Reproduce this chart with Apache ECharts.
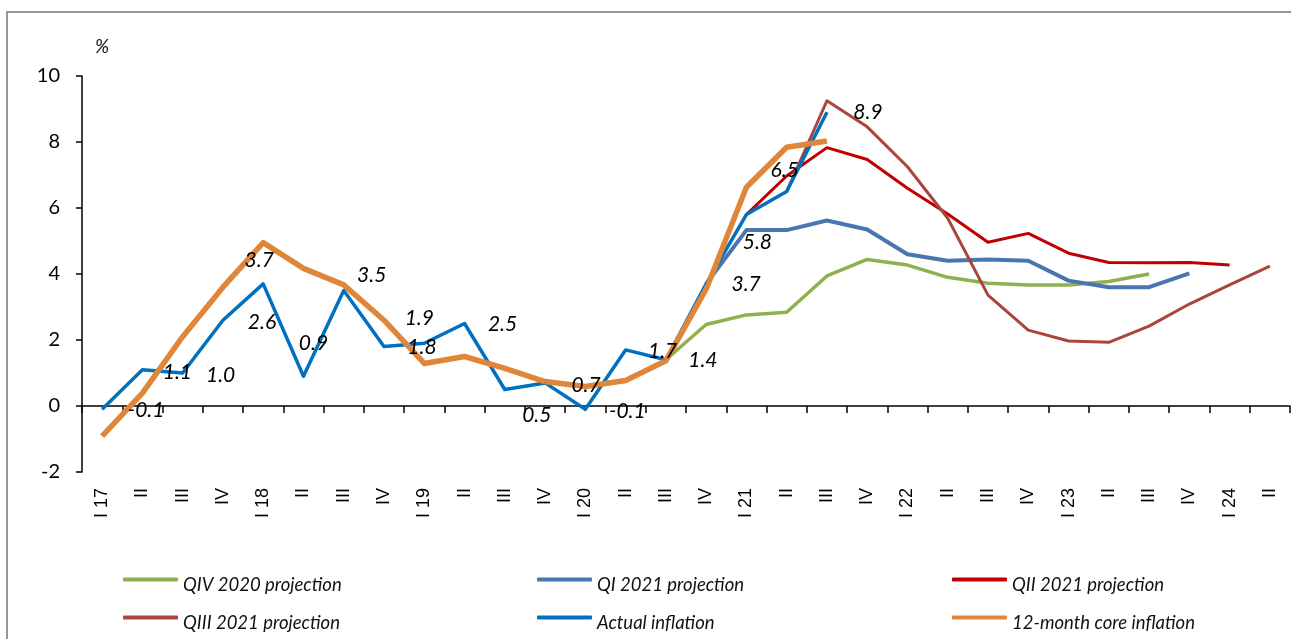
<!DOCTYPE html>
<html>
<head>
<meta charset="utf-8">
<title>Inflation projections</title>
<script src="https://cdn.jsdelivr.net/npm/echarts@6/dist/echarts.min.js"></script>
<style>
  html, body { margin: 0; padding: 0; background: #ffffff; }
  #chart { width: 1291px; height: 639px; }
</style>
</head>
<body>
<div id="chart"></div>
<script>
// Quarter labels along the horizontal axis
const quarters = [
  'I 17', 'II', 'III', 'IV',
  'I 18', 'II', 'III', 'IV',
  'I 19', 'II', 'III', 'IV',
  'I 20', 'II', 'III', 'IV',
  'I 21', 'II', 'III', 'IV',
  'I 22', 'II', 'III', 'IV',
  'I 23', 'II', 'III', 'IV',
  'I 24', 'II'
];

// Year-on-year inflation, %
const actualInflation = [
  -0.1, 1.1, 1.0, 2.6, 3.7, 0.9, 3.5, 1.8, 1.9, 2.5, 0.5, 0.7, -0.1, 1.7, 1.4, 3.7, 5.8, 6.5, 8.9,
  null, null, null, null, null, null, null, null, null, null, null
];

const coreInflation = [
  -0.91, 0.39, 2.1, 3.6, 4.95, 4.17, 3.67, 2.6, 1.29, 1.5, 1.14, 0.74, 0.59, 0.77, 1.37, 3.54, 6.63, 7.84, 8.03,
  null, null, null, null, null, null, null, null, null, null, null
];

const projQIV2020 = [
  null, null, null, null, null, null, null, null, null, null, null, null, null, null,
  1.4, 2.47, 2.76, 2.84, 3.94, 4.44, 4.27, 3.9, 3.72, 3.67, 3.67, 3.77, 4.0,
  null, null, null
];

const projQI2021 = [
  null, null, null, null, null, null, null, null, null, null, null, null, null, null, null,
  3.7, 5.33, 5.33, 5.62, 5.35, 4.6, 4.4, 4.44, 4.4, 3.8, 3.6, 3.6, 4.02,
  null, null
];

const projQII2021 = [
  null, null, null, null, null, null, null, null, null, null, null, null, null, null, null, null,
  5.8, 6.97, 7.83, 7.47, 6.6, 5.82, 4.96, 5.23, 4.63, 4.35, 4.34, 4.35, 4.27,
  null
];

const projQIII2021 = [
  null, null, null, null, null, null, null, null, null, null, null, null, null, null, null, null, null,
  6.5, 9.25, 8.46, 7.25, 5.69, 3.36, 2.3, 1.97, 1.93, 2.42, 3.09, 3.67, 4.24
];

// Value axis ticks
const yMin = -2;
const yMax = 10;
const yStep = 2;

// Series names
const names = [
  'QIV 2020 projection',
  'QI 2021 projection',
  'QII 2021 projection',
  'QIII 2021 projection',
  'Actual inflation',
  '12-month core inflation'
];

// Where each value label of the actual series sits relative to its point (px)
const labelOffsets = [
  [44, 1], [35, 3], [38, 2], [39, 2], [-4, -24], [10, -33], [28, -15], [38, 1], [-5, -25],
  [38, 1], [32, 26], [41, 2], [42, 2], [37, 1], [37, 0], [40, 0], [11, 28], [-2, -21], [41, 0]
];

const colors = {
  green: '#8DB14F',
  steel: '#4A76AF',
  red: '#C00000',
  brown: '#A9443F',
  blue: '#0070C0',
  orange: '#DF8639'
};

function lineSeries(name, data, color, width, extra) {
  return Object.assign({
    name: name,
    type: 'line',
    data: data,
    symbol: 'none',
    smooth: false,
    connectNulls: false,
    color: color,
    lineStyle: { color: color, width: width, cap: 'butt', join: 'round' },
    emphasis: { disabled: true },
    animation: false
  }, extra || {});
}

const legendText = {
  fontFamily: 'Lato',
  fontStyle: 'italic',
  fontSize: 18.5,
  color: '#111',
  padding: [12, 0, 0, 0]
};

function legendAt(name, left, top) {
  return {
    data: [name],
    left: left,
    top: top,
    padding: 0,
    itemWidth: 55,
    itemHeight: 4,
    icon: 'roundRect',
    selectedMode: false,
    formatter: n => '{t|' + n + '}',
    textStyle: {
      fontFamily: 'Lato',
      fontStyle: 'italic',
      fontSize: 18.5,
      color: '#111',
      rich: { t: legendText }
    }
  };
}

const chart = echarts.init(document.getElementById('chart'), null, { renderer: 'canvas' });

chart.setOption({
  backgroundColor: '#ffffff',
  animation: false,
  grid: { left: 82, right: 1, top: 76, bottom: 167, containLabel: false },
  graphic: [
    {
      type: 'rect',
      shape: { x: 7, y: 12, width: 1310, height: 700 },
      style: { fill: 'none', stroke: '#979797', lineWidth: 2 },
      silent: true
    },
    {
      type: 'text',
      left: 95,
      top: 37,
      style: { text: '%', fontFamily: 'Lato', fontStyle: 'italic', fontSize: 19, fill: '#111' },
      silent: true
    }
  ],
  legend: [
    legendAt(names[0], 123, 576),
    legendAt(names[1], 537, 576),
    legendAt(names[2], 952, 576),
    legendAt(names[3], 123, 614),
    legendAt(names[4], 537, 614),
    legendAt(names[5], 952, 614)
  ],
  xAxis: {
    type: 'category',
    data: quarters,
    boundaryGap: true,
    axisLine: { onZero: true, lineStyle: { color: '#000', width: 1.5 } },
    axisTick: { show: true, interval: 0, length: 7, lineStyle: { color: '#000', width: 1.5 } },
    axisLabel: {
      interval: 0,
      rotate: 90,
      margin: 16,
      fontFamily: 'Liberation Sans',
      fontSize: 18,
      color: '#000'
    },
    splitLine: { show: false }
  },
  yAxis: {
    type: 'value',
    min: yMin,
    max: yMax,
    interval: yStep,
    axisLine: { show: true, lineStyle: { color: '#000', width: 1.5 } },
    axisTick: { show: true, length: 6, lineStyle: { color: '#000', width: 1.5 } },
    axisLabel: { margin: 22, fontFamily: 'Lato', fontSize: 20, color: '#000' },
    splitLine: { show: false }
  },
  series: [
    lineSeries(names[0], projQIV2020, colors.green, 3.5),
    lineSeries(names[1], projQI2021, colors.steel, 4),
    lineSeries(names[2], projQII2021, colors.red, 3),
    lineSeries(names[3], projQIII2021, colors.brown, 3),
    lineSeries(names[4], actualInflation, colors.blue, 3.5, {
      symbol: 'circle',
      showSymbol: true,
      symbolSize: 1,
      itemStyle: { color: colors.blue },
      label: {
        show: true,
        position: 'inside',
        formatter: p => Number(p.value).toFixed(1),
        fontFamily: 'Lato',
        fontStyle: 'italic',
        fontSize: 21,
        color: '#000'
      },
      labelLayout: p => {
        const off = labelOffsets[p.dataIndex] || [0, 0];
        return { dx: off[0], dy: off[1], hideOverlap: false };
      },
      z: 3
    }),
    lineSeries(names[5], coreInflation, colors.orange, 5.5)
  ]
});
</script>
</body>
</html>
